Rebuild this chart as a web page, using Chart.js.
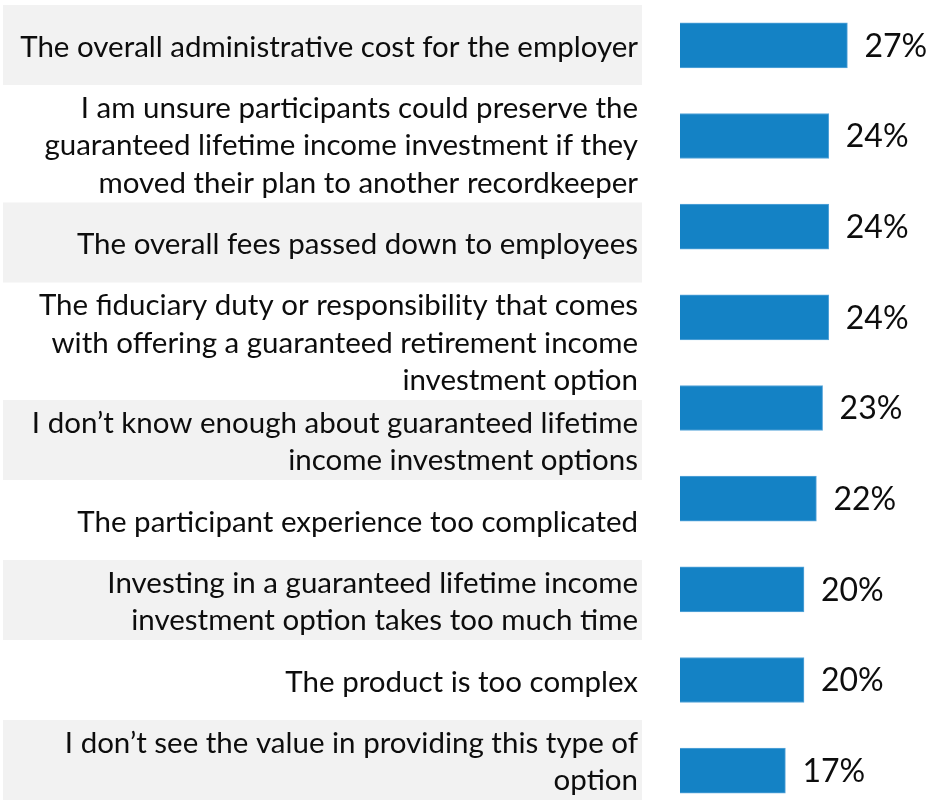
<!DOCTYPE html>
<html>
<head>
<meta charset="utf-8">
<script src="https://cdn.jsdelivr.net/npm/chart.js@4/dist/chart.umd.min.js"></script>
<style>
  html, body { margin: 0; padding: 0; background: #fff; overflow: hidden; }
  #wrap { position: relative; width: 928px; height: 816px; }
</style>
</head>
<body>
<div id="wrap"><canvas id="chart"></canvas></div>
<script>
// Survey answers, one entry per row (lines as they wrap in the original)
const categories = [
    ['The overall administrative cost for the employer'],
    ['I am unsure participants could preserve the', 'guaranteed lifetime income investment if they', 'moved their plan to another recordkeeper'],
    ['The overall fees passed down to employees'],
    ['The fiduciary duty or responsibility that comes', 'with offering a guaranteed retirement income', 'investment option'],
    ['I don\u2019t know enough about guaranteed lifetime', 'income investment options'],
    ['The participant experience too complicated'],
    ['Investing in a guaranteed lifetime income', 'investment option takes too much time'],
    ['The product is too complex'],
    ['I don\u2019t see the value in providing this type of', 'option']
];
const shares = [27, 24, 24, 24, 23, 22, 20, 20, 17];
const valueLabels = ['27%', '24%', '24%', '24%', '23%', '22%', '20%', '20%', '17%'];

const labelFont = '29.5px Lato';
const valueFont = '32px Lato';

//Draws the label table on the left (rows with alternating grey bands)
const labelTable = {
    id: 'labelTable',
    beforeDatasetsDraw(chart) {
        const ctx = chart.ctx;
        let top = 5;
        ctx.save();
        ctx.font = labelFont;
        ctx.textAlign = 'right';
        ctx.textBaseline = 'middle';
        categories.forEach((lines, i) => {
            let h = lines.length > 2 ? 117.5 : 80;
            if (i % 2 == 0) {
                ctx.fillStyle = '#F2F2F2';
                ctx.fillRect(3, top, 639, h);
            }
            ctx.fillStyle = '#0D0D0D';
            let mid = top + h / 2 + 2;
            lines.forEach((line, j) => {
                ctx.fillText(line, 638, mid + (j - (lines.length - 1) / 2) * 37.5);
            });
            top += h;
        });
        ctx.restore();
    }
};

//Writes the percentage next to each bar
const valueText = {
    id: 'valueText',
    afterDatasetsDraw(chart) {
        const ctx = chart.ctx;
        const meta = chart.getDatasetMeta(0);
        ctx.save();
        ctx.font = valueFont;
        ctx.fillStyle = '#0D0D0D';
        ctx.textBaseline = 'middle';
        meta.data.forEach((bar, i) => {
            ctx.fillText(valueLabels[i], bar.x + 17, bar.y + 1);
        });
        ctx.restore();
    }
};

let ctx = document.getElementById('chart').getContext('2d');

window.bar = new Chart(ctx, {
    type: 'bar',
    data: {
        labels: categories.map(c => c.join(' ')),
        datasets: [{
            data: shares,
            backgroundColor: '#1482C5',
            borderColor: '#5AA6DA',
            borderWidth: 1,
            barThickness: 45
        }]
    },
    options: {
        indexAxis: 'y',
        responsive: true,
        maintainAspectRatio: false,
        animation: false,
        layout: { padding: { left: 680, right: 0, top: 0, bottom: 0 } },
        plugins: {
            legend: { display: false },
            tooltip: { enabled: false }
        },
        scales: {
            x: { display: false, min: 0, max: 40 },
            y: { display: false }
        }
    },
    plugins: [labelTable, valueText]
});
</script>
</body>
</html>
